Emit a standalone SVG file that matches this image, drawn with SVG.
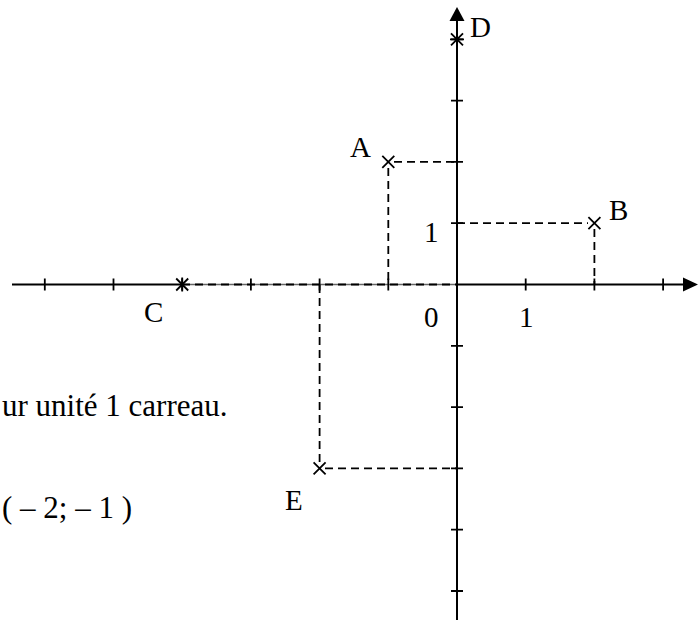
<svg xmlns="http://www.w3.org/2000/svg" width="699" height="620" viewBox="0 0 699 620">
<style>
.ax{stroke:#000;stroke-width:2;fill:none}
.tk{stroke:#000;stroke-width:1.8;fill:none}
.ds{stroke:#000;stroke-width:1.8;stroke-dasharray:8 5;fill:none}
.mk{stroke:#000;stroke-width:1.8;fill:none}
.lb{font-family:"Liberation Serif","Times New Roman",serif;font-size:29px;fill:#000}
.tx{font-family:"Liberation Serif","Times New Roman",serif;font-size:31px;fill:#000}
</style>
<rect width="699" height="620" fill="#fff"/>
<g id="axes">
  <line class="ax" x1="12" y1="284.5" x2="182" y2="284.5"/>
  <line x1="182" y1="284.5" x2="457" y2="284.5" stroke="#666" stroke-width="1.6"/>
  <line class="ax" x1="457" y1="284.5" x2="686" y2="284.5"/>
  <polygon points="698,284.5 683,277.5 683,291.5" fill="#000"/>
  <line class="ax" x1="457" y1="18" x2="457" y2="620"/>
  <polygon points="457,7 449.5,21 464.5,21" fill="#000"/>
  <path class="tk" d="M44.8,278.5v12M113.5,278.5v12M182.2,278.5v12M250.9,278.5v12M319.6,278.5v12M388.3,278.5v12M525.7,278.5v12M594.4,278.5v12M663.1,278.5v12"/>
  <path class="tk" d="M451,39.3h12M451,100.6h12M451,161.9h12M451,223.2h12M451,345.8h12M451,407.1h12M451,468.4h12M451,529.7h12M451,591h12"/>
  <text class="lb" x="424" y="327">0</text>
  <text class="lb" x="519" y="327">1</text>
  <text class="lb" x="424" y="242">1</text>
</g>
<g id="connectors">
  <line class="ds" x1="182" y1="284.5" x2="457" y2="284.5"/>
  <line class="ds" x1="394" y1="161.9" x2="457" y2="161.9"/>
  <line class="ds" x1="388.3" y1="168" x2="388.3" y2="284.5"/>
  <line class="ds" x1="457" y1="223.2" x2="588" y2="223.2"/>
  <line class="ds" x1="594.4" y1="229" x2="594.4" y2="284.5"/>
  <line class="ds" x1="325" y1="468.4" x2="457" y2="468.4"/>
  <line class="ds" x1="319.6" y1="462" x2="319.6" y2="284.5"/>
</g>
<g id="A">
  <path class="mk" d="M382.3,155.9l12,12M394.3,155.9l-12,12"/>
  <text class="lb" x="350" y="157">A</text>
</g>
<g id="B">
  <path class="mk" d="M588.4,217.2l12,12M600.4,217.2l-12,12"/>
  <text class="lb" x="609" y="220">B</text>
</g>
<g id="C">
  <path class="mk" d="M176.2,278.5l12,12M188.2,278.5l-12,12M182.2,277.5v14"/>
  <text class="lb" x="144" y="322">C</text>
</g>
<g id="D">
  <path class="mk" d="M451,33.3l12,12M463,33.3l-12,12M450,39.3h14"/>
  <text class="lb" x="470" y="37">D</text>
</g>
<g id="E">
  <path class="mk" d="M313.6,462.4l12,12M325.6,462.4l-12,12"/>
  <text class="lb" x="285" y="510">E</text>
</g>
<g id="notes">
  <text class="tx" x="2" y="416">ur unité 1 carreau.</text>
  <text class="tx" x="2" y="518">( – 2; – 1 )</text>
</g>
</svg>
